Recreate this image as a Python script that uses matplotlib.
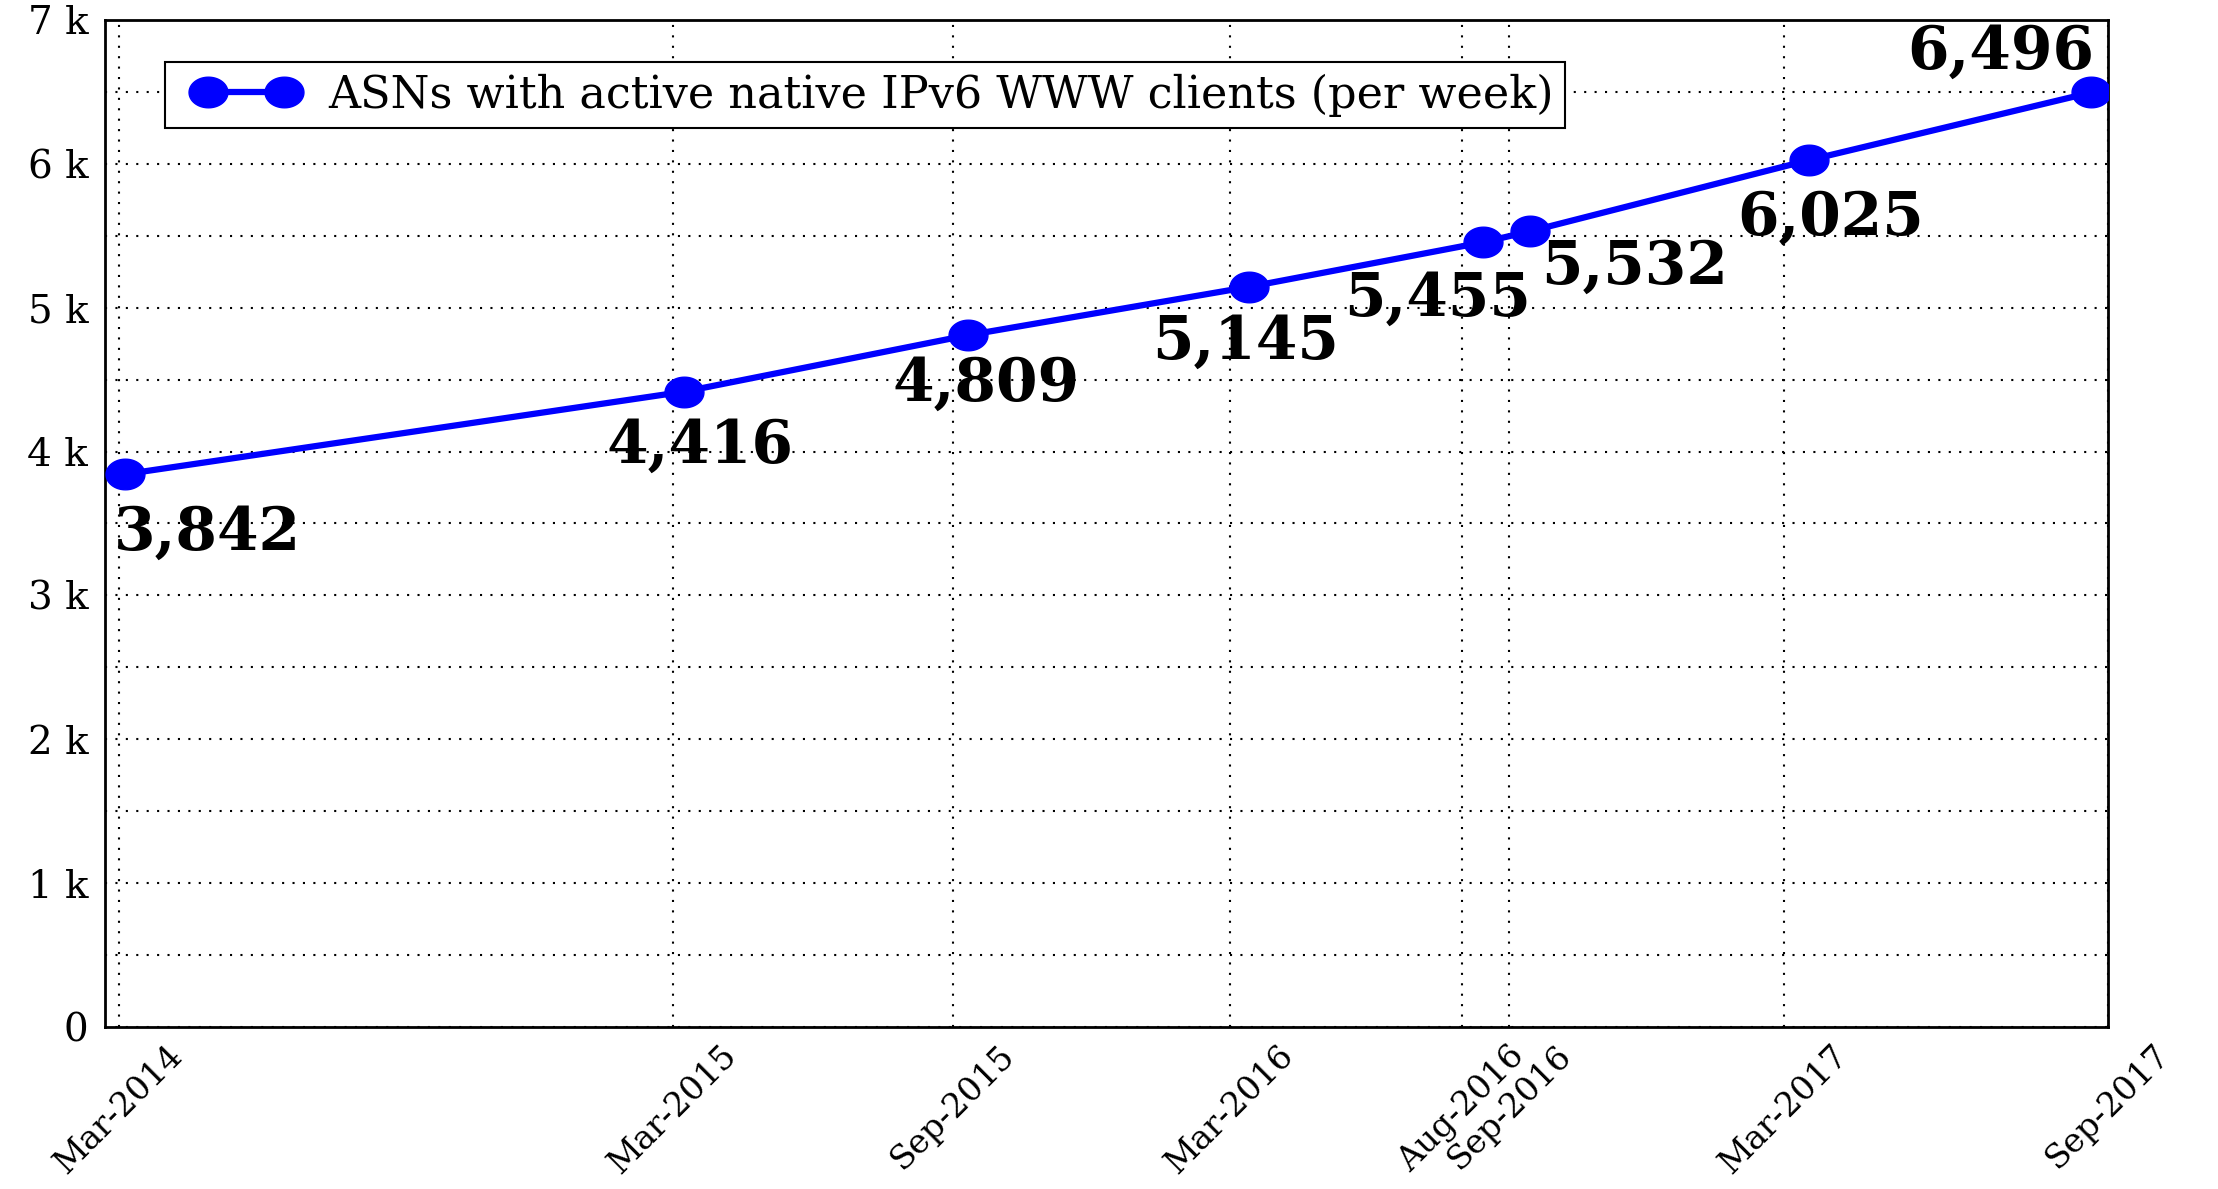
import numpy as np
import pandas as pd
import matplotlib
matplotlib.use("Agg")
import matplotlib.pyplot as plt
from matplotlib.path import Path
from matplotlib.legend_handler import HandlerLine2D
from matplotlib.ticker import FuncFormatter, MultipleLocator

# weekly count of ASNs with native IPv6 web clients
dates = pd.to_datetime(["2014-03-05", "2015-03-08", "2015-09-11", "2016-03-14",
                        "2016-08-15", "2016-09-15", "2017-03-17", "2017-09-19"])
asns = [3842, 4416, 4809, 5145, 5455, 5532, 6025, 6496]

tick_dates = pd.to_datetime(["2014-03-01", "2015-03-01", "2015-09-01", "2016-03-01",
                             "2016-08-01", "2016-09-01", "2017-03-01", "2017-09-30"])
tick_labels = ["Mar-2014", "Mar-2015", "Sep-2015", "Mar-2016",
               "Aug-2016", "Sep-2016", "Mar-2017", "Sep-2017"]
series_name = "ASNs with active native IPv6 WWW clients (per week)"

# where each value label sits relative to its point (pixels, baseline)
label_offsets = [(83, -75), (16, -71), (18, -66), (-4, -72),
                 (-46, -74), (104, -53), (22, -75), (-91, 24)]

plt.rcParams['font.family'] = ['DejaVu Serif']

fig = plt.figure(figsize=(22.18, 11.89), dpi=100)
ax = fig.add_axes([0.0473, 0.1363, 0.9031, 0.8469])

# the original chart is stretched sideways, so the dots are ovals
t = np.linspace(0, 2 * np.pi, 73)
oval = Path(np.column_stack([1.27 * np.cos(t), np.sin(t)]), closed=True)

line, = ax.plot(dates, asns, color='blue', lw=4.5, marker=oval, markersize=28,
                label=series_name, zorder=3)

for d, v, (dx, dy) in zip(dates, asns, label_offsets):
    ax.annotate(f"{v:,}", (d, v), xytext=(dx, dy), textcoords='offset pixels',
                ha='center', va='baseline', fontsize=43, fontweight='bold',
                annotation_clip=False, zorder=4)

ax.set_xlim(pd.Timestamp("2014-02-20"), pd.Timestamp("2017-09-30"))
ax.set_ylim(0, 7000)
ax.set_xticks(tick_dates)
ax.set_xticklabels(tick_labels, rotation=45, fontsize=24)
ax.yaxis.set_major_locator(MultipleLocator(1000))
ax.yaxis.set_minor_locator(MultipleLocator(500))
ax.yaxis.set_major_formatter(FuncFormatter(lambda v, p: "0" if v == 0 else f"{int(v / 1000)} k"))

dots = (0, (1, 4))
ax.grid(True, which='major', color='black', linestyle=dots, linewidth=1.5)
ax.grid(True, which='minor', axis='y', color='black', linestyle=dots, linewidth=1.5)
ax.tick_params(which='both', length=0)
ax.tick_params(axis='x', pad=9)
ax.tick_params(axis='y', labelsize=28, pad=12)
for s in ax.spines.values():
    s.set_linewidth(2)

leg = ax.legend(loc='upper left', bbox_to_anchor=(0.030, 0.958), borderaxespad=0,
                fontsize=32, fancybox=False, edgecolor='black', framealpha=1,
                borderpad=0.25, handlelength=3.15, handletextpad=0.27, numpoints=2,
                handler_map={line: HandlerLine2D(marker_pad=0.72)})
leg.get_frame().set_linewidth(1.5)

fig.savefig("out.png", dpi=100)
